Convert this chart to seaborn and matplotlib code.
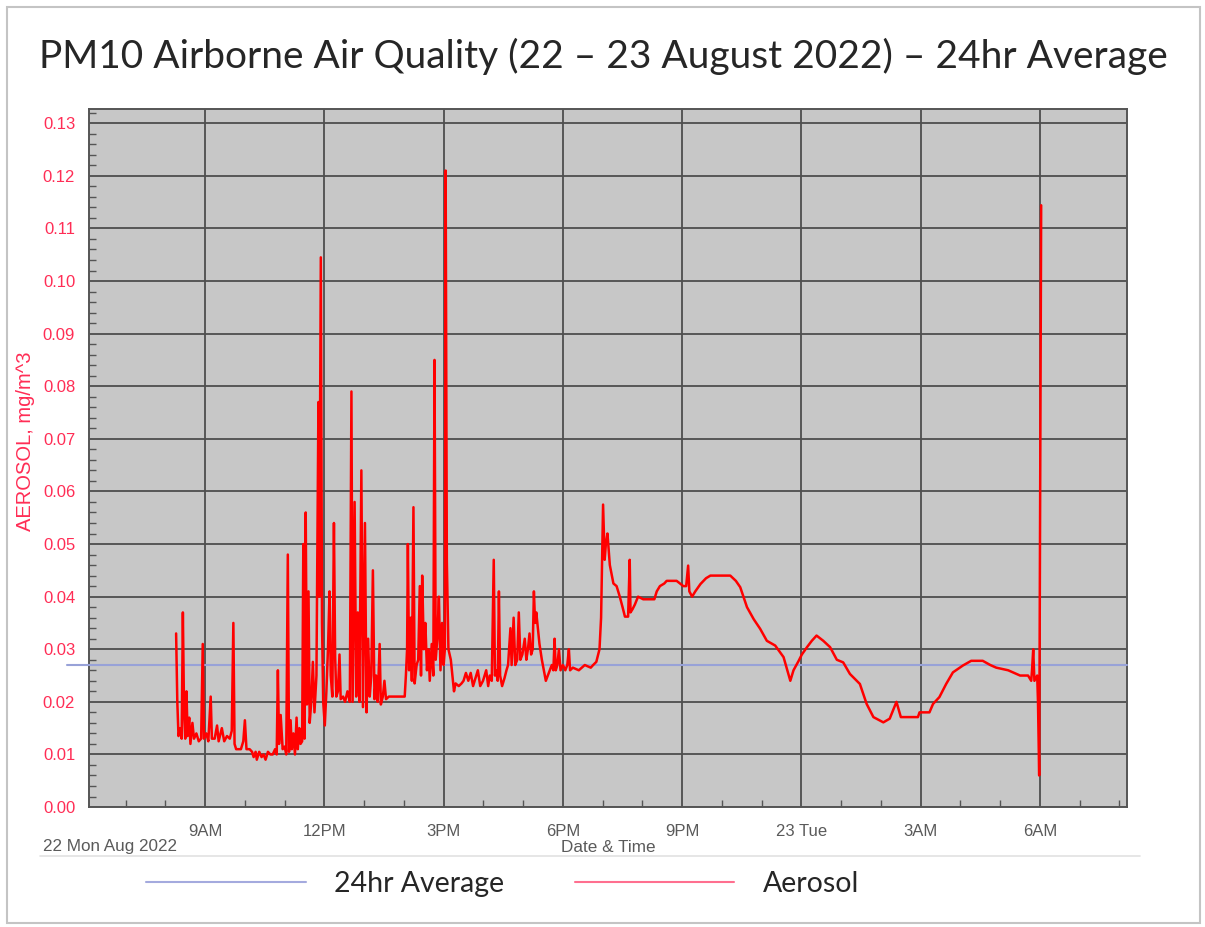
### PM10 airborne air quality, 22-23 Aug 2022 ###

import pandas as pd
import matplotlib
matplotlib.use('Agg')
import matplotlib.pyplot as plt
from matplotlib.ticker import MultipleLocator
from matplotlib.lines import Line2D
from matplotlib.patches import Rectangle
import matplotlib.dates as mdates
import seaborn as sns

# hours since 22 Aug 00:00, aerosol in mg/m^3
hours = [
    8.27, 8.30, 8.33, 8.37, 8.41, 8.44, 8.47, 8.50, 8.53, 8.56, 8.60, 8.63, 8.68, 8.72,
    8.78, 8.84, 8.90, 8.94, 8.97, 9.03, 9.08, 9.14, 9.17, 9.24, 9.30, 9.34, 9.42, 9.48,
    9.55, 9.62, 9.67, 9.71, 9.74, 9.78, 9.90, 9.96, 10.00, 10.04, 10.12, 10.18, 10.22,
    10.27, 10.30, 10.36, 10.42, 10.47, 10.52, 10.58, 10.64, 10.70, 10.76, 10.80, 10.83,
    10.86, 10.90, 10.95, 11.00, 11.04, 11.08, 11.11, 11.15, 11.18, 11.22, 11.26, 11.30,
    11.33, 11.37, 11.40, 11.44, 11.47, 11.50, 11.53, 11.56, 11.60, 11.63, 11.67, 11.71,
    11.75, 11.80, 11.85, 11.87, 11.91, 11.94, 11.97,
    12.01, 12.05, 12.09, 12.13, 12.16, 12.20, 12.24, 12.27, 12.30, 12.34, 12.38, 12.41,
    12.47, 12.52, 12.58, 12.64, 12.68, 12.71, 12.76, 12.80, 12.84, 12.88, 12.93, 12.97,
    13.02, 13.06, 13.10, 13.14, 13.18, 13.22, 13.26, 13.30, 13.34, 13.39, 13.42, 13.47,
    13.51, 13.55, 13.62, 13.75, 13.88, 14.02, 14.05, 14.08, 14.10, 14.13, 14.17, 14.20,
    14.24, 14.27, 14.32, 14.36, 14.40, 14.43, 14.46, 14.50, 14.54, 14.58, 14.62, 14.65,
    14.70, 14.74, 14.77, 14.80, 14.84, 14.88, 14.92, 14.96, 15.00, 15.03, 15.05, 15.08,
    15.12, 15.18, 15.22, 15.26,
    15.30, 15.38, 15.45, 15.50, 15.56, 15.62, 15.68, 15.74, 15.80, 15.86, 15.92, 15.99,
    16.07, 16.12, 16.16, 16.21, 16.26, 16.29, 16.32, 16.36, 16.39, 16.42, 16.47, 16.53,
    16.58, 16.62, 16.68, 16.71, 16.76, 16.80, 16.85, 16.89, 16.93, 16.98, 17.04, 17.08,
    17.12, 17.16, 17.20, 17.24, 17.27, 17.30, 17.33, 17.41, 17.47, 17.52, 17.57, 17.62,
    17.67, 17.72, 17.76, 17.79, 17.82, 17.86, 17.90, 17.94, 18.00, 18.06, 18.11, 18.15,
    18.18, 18.25, 18.40, 18.55, 18.70, 18.76, 18.84, 18.92, 18.96,
    19.01, 19.05, 19.08, 19.12, 19.18, 19.27, 19.35, 19.43, 19.50, 19.56, 19.64, 19.68,
    19.70, 19.75, 19.81, 19.89, 20.02, 20.15, 20.30, 20.36, 20.44, 20.55, 20.61, 20.86,
    21.03, 21.10, 21.15, 21.18, 21.25, 21.33, 21.46, 21.60, 21.71, 22.21, 22.35, 22.46,
    22.63, 22.80, 22.96, 23.13, 23.34, 23.55, 23.72, 23.80, 23.93, 24.01, 24.14, 24.26,
    24.38, 24.55, 24.72, 24.89, 25.05, 25.22, 25.47, 25.64, 25.81, 26.06, 26.22, 26.39,
    26.50, 26.93, 26.97, 27.22, 27.31, 27.47, 27.64, 27.81, 28.06, 28.27, 28.56, 28.75,
    28.90, 29.20, 29.50, 29.70, 29.78, 29.80, 29.83, 29.86, 29.93, 29.95, 29.98, 30.03,
]
aerosol = [
    0.033, 0.020, 0.0135, 0.015, 0.013, 0.037, 0.018, 0.013, 0.022, 0.0135, 0.017, 0.012, 0.016, 0.013,
    0.014, 0.0125, 0.013, 0.031, 0.013, 0.014, 0.0125, 0.021, 0.013, 0.013, 0.0155, 0.0125, 0.015, 0.0125,
    0.0135, 0.013, 0.0145, 0.035, 0.012, 0.011, 0.011, 0.0125, 0.0165, 0.011, 0.011, 0.0105, 0.0095,
    0.0105, 0.009, 0.0105, 0.0095, 0.010, 0.009, 0.0105, 0.010, 0.010, 0.011, 0.010, 0.026,
    0.012, 0.0175, 0.011, 0.0115, 0.010, 0.048, 0.0105, 0.0165, 0.011, 0.014, 0.010, 0.017,
    0.011, 0.015, 0.012, 0.0125, 0.050, 0.013, 0.056, 0.0195, 0.041, 0.016, 0.020, 0.0276,
    0.018, 0.025, 0.077, 0.040, 0.1045, 0.035, 0.020,
    0.0155, 0.022, 0.030, 0.041, 0.025, 0.021, 0.054, 0.0286, 0.021, 0.022, 0.029, 0.0205,
    0.021, 0.020, 0.022, 0.020, 0.079, 0.020, 0.058, 0.021, 0.037, 0.020, 0.064, 0.019,
    0.054, 0.018, 0.032, 0.021, 0.025, 0.045, 0.0205, 0.025, 0.020, 0.031, 0.0195, 0.021,
    0.024, 0.0205, 0.021, 0.021, 0.021, 0.021, 0.025, 0.030, 0.050, 0.026, 0.036, 0.024,
    0.057, 0.0235, 0.027, 0.028, 0.042, 0.025, 0.044, 0.030, 0.035, 0.026, 0.030, 0.024,
    0.031, 0.025, 0.085, 0.028, 0.032, 0.040, 0.026, 0.035, 0.027, 0.030, 0.121, 0.0467,
    0.030, 0.028, 0.025, 0.022,
    0.0235, 0.023, 0.0235, 0.024, 0.0255, 0.024, 0.0255, 0.023, 0.0245, 0.026, 0.023, 0.024,
    0.026, 0.023, 0.025, 0.024, 0.047, 0.025, 0.026, 0.024, 0.041, 0.025, 0.023, 0.0245,
    0.026, 0.027, 0.034, 0.027, 0.036, 0.027, 0.028, 0.037, 0.028, 0.029, 0.032, 0.028,
    0.030, 0.033, 0.029, 0.030, 0.041, 0.035, 0.037, 0.031, 0.028, 0.026, 0.024, 0.025,
    0.026, 0.027, 0.026, 0.032, 0.026, 0.027, 0.030, 0.026, 0.027, 0.026, 0.027, 0.030,
    0.026, 0.0265, 0.026, 0.027, 0.0265, 0.027, 0.0276, 0.030, 0.036,
    0.0575, 0.047, 0.050, 0.052, 0.046, 0.0425, 0.042, 0.040, 0.038, 0.0362, 0.0362, 0.047,
    0.037, 0.0376, 0.0385, 0.040, 0.0395, 0.0395, 0.0395, 0.041, 0.042, 0.0425, 0.043, 0.043,
    0.042, 0.042, 0.0459, 0.041, 0.040, 0.041, 0.0424, 0.0435, 0.044, 0.044, 0.043, 0.0418,
    0.038, 0.0357, 0.0339, 0.0316, 0.0307, 0.0285, 0.024, 0.026, 0.0278, 0.029, 0.0304, 0.0316,
    0.0326, 0.0316, 0.0304, 0.028, 0.0275, 0.0253, 0.0234, 0.0196, 0.0171, 0.0161, 0.0168, 0.020,
    0.0171, 0.0171, 0.018, 0.018, 0.0196, 0.0209, 0.0234, 0.0256, 0.0269, 0.0278, 0.0278, 0.027,
    0.0265, 0.026, 0.025, 0.025, 0.024, 0.026, 0.030, 0.024, 0.025, 0.020, 0.006, 0.1144,
]
avg_24hr = 0.027

tick_hours = [9, 12, 15, 18, 21, 24, 27, 30]
tick_labels = ['9AM', '12PM', '3PM', '6PM', '9PM', '23 Tue', '3AM', '6AM']
y_ticks = [0.00, 0.01, 0.02, 0.03, 0.04, 0.05, 0.06, 0.07, 0.08, 0.09, 0.10, 0.11, 0.12, 0.13]
x_range = [6.08, 32.19]
y_range = [0, 0.1327]

day0 = pd.Timestamp('2022-08-22')
df = pd.DataFrame({'time': day0 + pd.to_timedelta(hours, unit='h'), 'aerosol': aerosol})

sns.set_theme(style='white')
plt.rcParams['font.family'] = ['Liberation Sans', 'DejaVu Sans']

fig = plt.figure(figsize=(12.05, 9.27), dpi=100)
ax = fig.add_axes([0.0739, 0.1294, 0.8614, 0.753])
ax.set_facecolor('#c7c7c7')

# 24hr average line (starts a little left of the axis like the original)
ax.axhline(avg_24hr, xmin=-0.021, xmax=1, color='#98a2d8', lw=1.5, clip_on=False, zorder=3)

sns.lineplot(data=df, x='time', y='aerosol', color='#ff0000', lw=1.8,
             errorbar=None, ax=ax, zorder=4)

ax.set_xlim(day0 + pd.to_timedelta(x_range, unit='h'))
ax.set_ylim(y_range)

ax.set_xticks(day0 + pd.to_timedelta(tick_hours, unit='h'))
ax.set_xticklabels(tick_labels)
ax.xaxis.set_minor_locator(mdates.HourLocator())
ax.set_yticks(y_ticks)
ax.set_yticklabels([f'{v:.2f}' for v in y_ticks])
ax.yaxis.set_minor_locator(MultipleLocator(0.002))

ax.grid(True, which='major', color='#4e4e4e', lw=1.3)
ax.set_axisbelow(True)
for s in ax.spines.values():
    s.set_color('#555555')
    s.set_linewidth(1.4)

ax.tick_params(axis='y', which='major', direction='out', length=8, width=1.2,
               color='#555555', labelcolor='#ff2d55', labelsize=12, pad=2)
ax.tick_params(axis='y', which='minor', direction='in', length=5, width=1, color='#555555', left=True)
ax.tick_params(axis='x', which='major', direction='out', length=8, width=1.2,
               color='#555555', labelcolor='#5a5a5a', labelsize=12, pad=4)
ax.tick_params(axis='x', which='minor', direction='in', length=5, width=1, color='#555555', bottom=True)

ax.set_xlabel('Date & Time', color='#5a5a5a', fontsize=12.3, labelpad=1)
ax.set_ylabel('AEROSOL, mg/m^3', color='#ff2d55', fontsize=14.5)
ax.yaxis.set_label_coords(-0.052, 0.524)

fig.text(43 / 1205, 1 - 846 / 927, '22 Mon Aug 2022', ha='left', va='center',
         color='#5a5a5a', fontsize=12.3)

fig.suptitle('PM10 Airborne Air Quality (22 – 23 August 2022) – 24hr Average',
             x=0.501, y=0.939, va='center', fontsize=28, family=['Lato', 'DejaVu Sans'])

# thin separator and outer frame
fig.add_artist(Line2D([40 / 1205, 1140 / 1205], [1 - 856 / 927] * 2, color='#e2e2e2', lw=1.2))
fig.add_artist(Rectangle((7 / 1205, 1 - 923 / 927), 1193 / 1205, 916 / 927, fill=False,
                         ec='#c4c4c4', lw=1.5, transform=fig.transFigure))

handles = [Line2D([], [], color='#a4aade', lw=1.5), Line2D([], [], color='#ff6f8f', lw=1.5)]
fig.legend(handles, ['24hr Average', 'Aerosol'], loc='center', bbox_to_anchor=(0.417, 0.046),
           ncol=2, frameon=False, prop={'family': ['Lato', 'DejaVu Sans'], 'size': 20.5},
           handlelength=5.6, handletextpad=1.0, columnspacing=2.47)

fig.savefig('out.png', dpi=100)
